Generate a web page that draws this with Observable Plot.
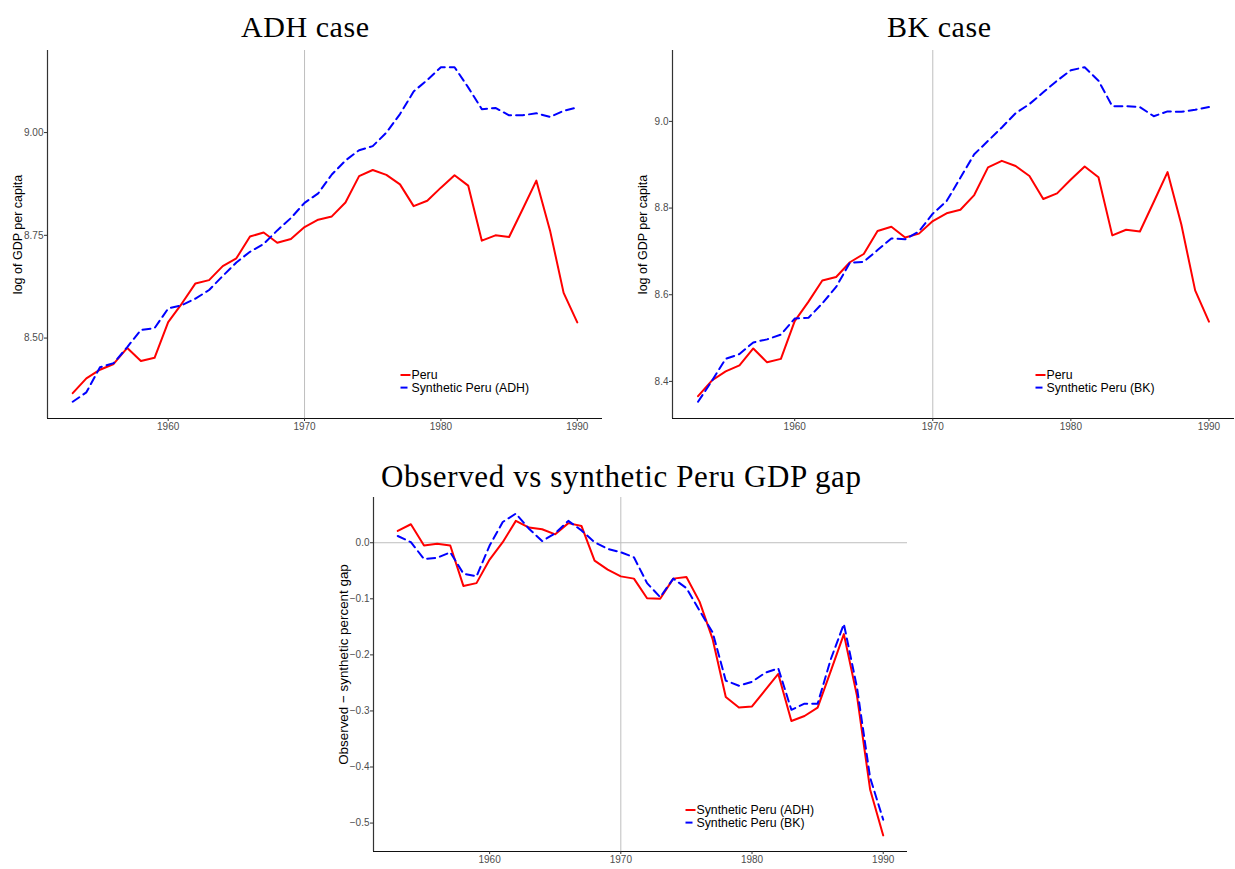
<!DOCTYPE html>
<html><head><meta charset="utf-8">
<script src="https://cdn.jsdelivr.net/npm/d3@7"></script>
<script src="https://cdn.jsdelivr.net/npm/@observablehq/plot@0.6"></script>
<style>
body{margin:0;background:#fff;}
#wrap{position:relative;width:1235px;height:869px;overflow:hidden;font-family:"Liberation Sans",Arial,sans-serif;}
.panel{position:absolute;}
#overlay{position:absolute;left:0;top:0;}
g[aria-label$="axis tick"]{stroke:#333;}
g[aria-label$="tick label"]{fill:#4d4d4d;}
</style></head>
<body><div id="wrap"></div>
<script>
// ---- data ----
const years = [1953,1954,1955,1956,1957,1958,1959,1960,1961,1962,1963,1964,1965,1966,1967,1968,1969,1970,1971,1972,1973,1974,1975,1976,1977,1978,1979,1980,1981,1982,1983,1984,1985,1986,1987,1988,1989,1990];
const peru = [8.366,8.402,8.423,8.437,8.476,8.444,8.452,8.539,8.584,8.633,8.641,8.675,8.694,8.747,8.757,8.732,8.741,8.770,8.788,8.796,8.830,8.894,8.909,8.897,8.874,8.821,8.834,8.866,8.896,8.871,8.737,8.750,8.746,8.814,8.883,8.762,8.610,8.538];
const synthADH = [8.345,8.368,8.429,8.439,8.478,8.520,8.524,8.572,8.580,8.596,8.617,8.651,8.684,8.710,8.729,8.762,8.792,8.829,8.852,8.898,8.932,8.957,8.967,9.000,9.045,9.100,9.128,9.159,9.159,9.110,9.057,9.060,9.042,9.042,9.047,9.038,9.053,9.061];
const synthBK = [8.353,8.401,8.452,8.463,8.490,8.497,8.508,8.545,8.547,8.580,8.618,8.674,8.676,8.703,8.730,8.728,8.746,8.787,8.816,8.870,8.924,8.955,8.986,9.019,9.040,9.067,9.094,9.118,9.125,9.094,9.035,9.035,9.033,9.012,9.023,9.022,9.027,9.033];
const gapADH = [0.021,0.033,-0.005,-0.002,-0.005,-0.077,-0.072,-0.030,0.001,0.039,0.027,0.024,0.015,0.035,0.030,-0.032,-0.048,-0.060,-0.064,-0.099,-0.100,-0.064,-0.061,-0.105,-0.172,-0.275,-0.294,-0.292,-0.263,-0.234,-0.318,-0.309,-0.294,-0.229,-0.163,-0.273,-0.440,-0.522];
const gapBK = [0.012,0.001,-0.029,-0.027,-0.017,-0.055,-0.060,-0.005,0.037,0.052,0.025,0.003,0.017,0.039,0.022,0.001,-0.011,-0.017,-0.026,-0.072,-0.097,-0.064,-0.081,-0.121,-0.160,-0.246,-0.255,-0.248,-0.232,-0.224,-0.298,-0.287,-0.287,-0.208,-0.145,-0.258,-0.419,-0.494];
const treatmentYear = [1970];
const zeroLine = [0];
const xTicks = [1960,1970,1980,1990];
const yTicksADH = [8.50,8.75,9.00];
const yTicksBK = [8.4,8.6,8.8,9.0];
const yTicksGap = [-0.5,-0.4,-0.3,-0.2,-0.1,0.0];
const titles = ["ADH case","BK case","Observed vs synthetic Peru GDP gap"];
const yLabels = ["log of GDP per capita","log of GDP per capita","Observed \u2212 synthetic percent gap"];
const legendADH = ["Peru","Synthetic Peru (ADH)"];
const legendBK = ["Peru","Synthetic Peru (BK)"];
const legendGap = ["Synthetic Peru (ADH)","Synthetic Peru (BK)"];

// ---- helpers ----
const RED = "#ff0000", BLUE = "#0000ff", DASH = "8,5";
function expand(vals){
  const lo = d3.min(vals), hi = d3.max(vals), e = (hi - lo) * 0.05;
  return [lo - e, hi + e];
}
const rows = (arr) => years.map((y,i)=>({year:y, value:arr[i]}));
const xDomain = expand(years);

function panel({solid, dashed, yTicks, yFmt, yLabel, ref0, left, top, width, height, mL, mR, mT, mB, labelDx, labelDy, labelSize}){
  const yDomain = expand(solid.concat(dashed));
  const marks = [
    Plot.ruleX(treatmentYear, {stroke:"#bebebe", strokeWidth:1}),
  ];
  if (ref0) marks.push(Plot.ruleY(zeroLine, {stroke:"#bebebe", strokeWidth:1}));
  marks.push(
    Plot.line(rows(solid), {x:"year", y:"value", stroke:RED, strokeWidth:2}),
    Plot.line(rows(dashed), {x:"year", y:"value", stroke:BLUE, strokeWidth:2, strokeDasharray:DASH}),
    Plot.ruleY([yDomain[0]], {stroke:"#111", strokeWidth:1.2}),
    Plot.ruleX([xDomain[0]], {stroke:"#333", strokeWidth:1.2}),
    Plot.axisX(xTicks, {tickSize:3, tickPadding:1, tickFormat:d=>String(d), label:null, color:"#4d4d4d"}),
    Plot.axisY(yTicks, {tickSize:3, tickPadding:1, tickFormat:yFmt, label:null, color:"#4d4d4d"}),
    Plot.text([yLabel], {frameAnchor:"left", dx:labelDx, dy:labelDy, rotate:-90, textAnchor:"middle", lineAnchor:"middle", fontSize:labelSize, fill:"#000", text:d=>d})
  );
  const chart = Plot.plot({
    width, height, marginLeft:mL, marginRight:mR, marginTop:mT, marginBottom:mB,
    x:{domain:xDomain}, y:{domain:yDomain},
    style:{fontSize:"10px", fontFamily:"'Liberation Sans', Arial, sans-serif", background:"transparent", overflow:"visible"},
    marks
  });
  chart.classList.add("panel");
  chart.style.left = left + "px";
  chart.style.top = top + "px";
  document.getElementById("wrap").appendChild(chart);
}

panel({solid:peru, dashed:synthADH, yTicks:yTicksADH, yFmt:d3.format(".2f"), yLabel:yLabels[0], ref0:false,
  left:0, top:45, width:615, height:400, mL:47, mR:13, mT:5, mB:27, labelDx:-29.5, labelDy:0, labelSize:12.5});
panel({solid:peru, dashed:synthBK, yTicks:yTicksBK, yFmt:d3.format(".1f"), yLabel:yLabels[1], ref0:false,
  left:625, top:45, width:610, height:400, mL:47, mR:1, mT:5, mB:27, labelDx:-29.5, labelDy:0, labelSize:12.5});
panel({solid:gapADH, dashed:gapBK, yTicks:yTicksGap, yFmt:d3.format(".1f"), yLabel:yLabels[2], ref0:true,
  left:325, top:492, width:600, height:380, mL:48, mR:18, mT:5, mB:21, labelDx:-30, labelDy:-10, labelSize:13.4});

// ---- titles and legends overlay ----
const svg = d3.select("#wrap").append("svg").attr("id","overlay").attr("width",1235).attr("height",869)
  .style("pointer-events","none");
const titlePos = [[305,37,128,30],[939,37,104,30],[621,487,480,31]];
titles.forEach((t,i)=>{
  svg.append("text").attr("x",titlePos[i][0]).attr("y",titlePos[i][1]).attr("text-anchor","middle")
    .attr("textLength", titlePos[i][2]).attr("lengthAdjust","spacing")
    .attr("font-family","'Liberation Serif', 'DejaVu Serif', serif").attr("font-size",titlePos[i][3]).attr("fill","#000").text(t);
});
function legend(labels, x, y){
  const g = svg.append("g").attr("transform",`translate(${x},${y})`);
  labels.forEach((lab,i)=>{
    const yy = i*12.6;
    g.append("line").attr("x1",0).attr("x2",10).attr("y1",yy).attr("y2",yy)
      .attr("stroke", i===0?RED:BLUE).attr("stroke-width",2).attr("stroke-dasharray", i===0?null:"7,3");
    g.append("text").attr("x",11).attr("y",yy).attr("dy","0.36em").attr("font-size",12.3)
      .attr("font-family","'Liberation Sans', Arial, sans-serif").attr("fill","#000").text(lab);
  });
}
legend(legendADH, 400.5, 375);
legend(legendBK, 1035.5, 375);
legend(legendGap, 685.5, 810);
</script></body></html>
